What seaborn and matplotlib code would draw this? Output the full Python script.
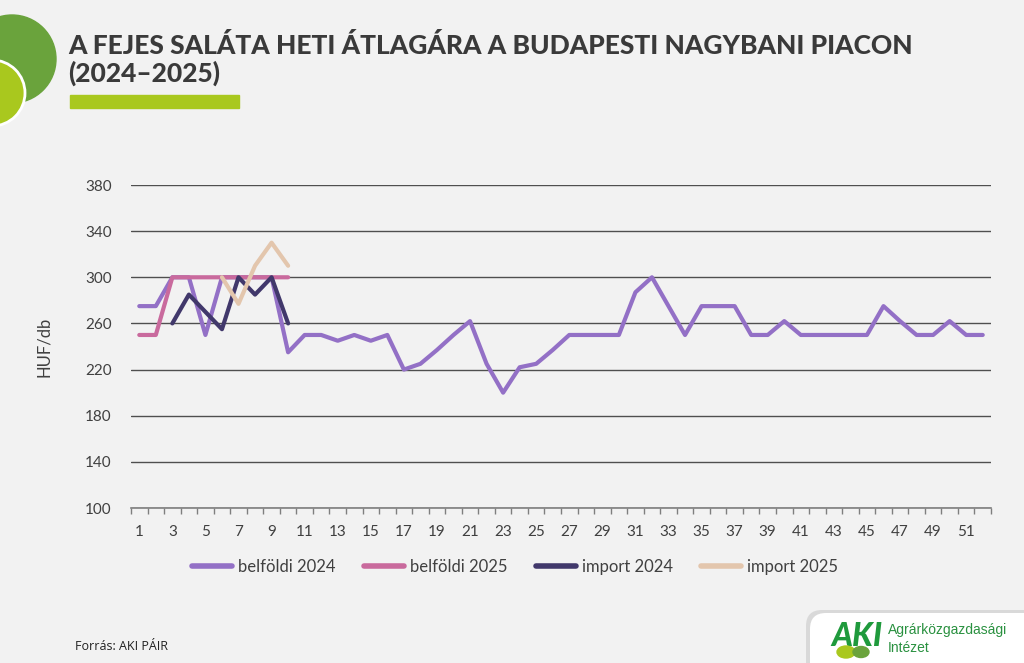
import numpy as np
import pandas as pd
import matplotlib
matplotlib.use("Agg")
import matplotlib.pyplot as plt
import seaborn as sns
from matplotlib.patches import Circle, FancyBboxPatch, Rectangle, Ellipse
from matplotlib.ticker import FixedLocator, NullFormatter

# ---------------- data ----------------
weeks = list(range(1, 53))
belfoldi_2024 = [275, 275, 300, 300, 250, 300, 300, 300, 300, 235,
                 250, 250, 245, 250, 245, 250, 220, 225, 237, 250,
                 262, 225, 200, 222, 225, 237, 250, 250, 250, 250,
                 287, 300, 275, 250, 275, 275, 275, 250, 250, 262,
                 250, 250, 250, 250, 250, 275, 262, 250, 250, 262,
                 250, 250]
weeks_belfoldi_2025 = list(range(1, 11))
belfoldi_2025 = [250, 250, 300, 300, 300, 300, 300, 300, 300, 300]
weeks_import_2024 = list(range(3, 11))
import_2024 = [260, 285, 270, 255, 300, 285, 300, 260]
weeks_import_2025 = list(range(6, 11))
import_2025 = [300, 277, 310, 330, 310]

series_names = ["belföldi 2024", "belföldi 2025", "import 2024", "import 2025"]
series_colors = ["#9370c6", "#c96a9d", "#41386b", "#e3c6ad"]
yticks = [100, 140, 180, 220, 260, 300, 340, 380]
xlabels = [str(w) for w in range(1, 53, 2)]

title_line1 = "A FEJES SALÁTA HETI ÁTLAGÁRA A BUDAPESTI NAGYBANI PIACON"
title_line2 = "(2024–2025)"
ylabel_text = "HUF/db"
source_text = "Forrás: AKI PÁIR"

frames = []
for name, wk, vals in [(series_names[0], weeks, belfoldi_2024),
                       (series_names[1], weeks_belfoldi_2025, belfoldi_2025),
                       (series_names[2], weeks_import_2024, import_2024),
                       (series_names[3], weeks_import_2025, import_2025)]:
    frames.append(pd.DataFrame({"week": wk, "price": vals, "series": name}))
df = pd.concat(frames, ignore_index=True)

# ---------------- style ----------------
BG = "#f2f2f2"
sns.set_theme(style="white")
plt.rcParams["font.family"] = ["Lato", "DejaVu Sans"]
plt.rcParams["figure.facecolor"] = BG
plt.rcParams["savefig.facecolor"] = BG

W, H = 1024, 663
fig = plt.figure(figsize=(W / 100, H / 100), dpi=100)

# overlay (pixel coordinates, y downward) for decorations
deco = fig.add_axes([0, 0, 1, 1], zorder=0)
deco.set_xlim(0, W)
deco.set_ylim(H, 0)
deco.axis("off")

deco.add_patch(Circle((12, 59), 44, color="#6aa33c", zorder=1))
deco.add_patch(Circle((-8, 93), 33, facecolor="#a9c81e", edgecolor="white", lw=2, zorder=2))
deco.add_patch(Rectangle((70, 95), 169, 13, color="#a9c81e", zorder=1))

# logo tab
deco.add_patch(FancyBboxPatch((806, 610), 240, 70, boxstyle="round,pad=0,rounding_size=16",
                              facecolor="#d9d9d9", edgecolor="none", zorder=1))
deco.add_patch(FancyBboxPatch((810, 613), 240, 70, boxstyle="round,pad=0,rounding_size=16",
                              facecolor="white", edgecolor="none", zorder=2))
deco.text(831, 646, "AKI", fontsize=23, fontweight="black", color="#1f9a3c",
          fontstyle="italic", family=["Lato", "DejaVu Sans"], va="baseline", zorder=3)
deco.add_patch(Ellipse((846, 652), 18, 12, color="#a9c81e", zorder=4))
deco.add_patch(Ellipse((861, 652), 16, 11, color="#6aa33c", zorder=4))
deco.text(888, 630, "Agrárközgazdasági", fontsize=10, color="#2a9140",
          family=["Liberation Sans"], va="center", zorder=3)
deco.text(888, 648, "Intézet", fontsize=10, color="#2a9140",
          family=["Liberation Sans"], va="center", zorder=3)

deco.text(68, 54, title_line1,
          fontsize=19, fontweight="black", color="#3a3a3a", va="baseline", zorder=3)
deco.text(68, 82, title_line2,
          fontsize=19, fontweight="black", color="#3a3a3a", va="baseline", zorder=3)
deco.text(75, 650, source_text, fontsize=9, color="#222222",
          family=["Open Sans", "DejaVu Sans"], va="baseline", zorder=3)

# ---------------- main chart ----------------
ax = fig.add_axes([131 / W, 1 - 508 / H, (991 - 131) / W, (508 - 185) / H], zorder=2)
ax.set_facecolor("none")

sns.lineplot(data=df, x="week", y="price", hue="series", hue_order=series_names,
             palette=dict(zip(series_names, series_colors)), linewidth=3,
             ax=ax, legend=True, sort=True, estimator=None)
for ln in ax.get_lines():
    ln.set_solid_capstyle("round")
    ln.set_solid_joinstyle("round")

ax.set_xlim(0.5, 52.5)
ax.set_ylim(100, 380)
ax.set_yticks(yticks)
ax.set_yticklabels([str(v) for v in yticks])
ax.set_xticks(list(range(1, 53, 2)))
ax.set_xticklabels(xlabels)
ax.xaxis.set_minor_locator(FixedLocator(np.arange(0.5, 53, 1.0)))
ax.xaxis.set_minor_formatter(NullFormatter())

ax.tick_params(axis="x", which="major", length=0, pad=12, labelsize=11, labelcolor="#404040")
ax.tick_params(axis="x", which="minor", length=4, width=1, color="#7f7f7f", direction="out", bottom=True)
ax.tick_params(axis="y", which="major", length=0, pad=14, labelsize=11, labelcolor="#404040")

ax.yaxis.grid(True, color="#4f4f4f", lw=1.0)
ax.xaxis.grid(False)
ax.set_axisbelow(True)
for s in ["top", "right", "left"]:
    ax.spines[s].set_visible(False)
ax.spines["bottom"].set_color("#7f7f7f")
ax.spines["bottom"].set_linewidth(1.2)

ax.set_xlabel("")
ax.set_ylabel(ylabel_text, fontsize=12, color="#404040", labelpad=24)

handles, labels = ax.get_legend_handles_labels()
ax.get_legend().remove()
for h in handles:
    h.set_linewidth(4)
    h.set_solid_capstyle("round")
fig.legend(handles, labels, loc="center", bbox_to_anchor=(515 / W, 1 - 567 / H), ncol=4,
           frameon=False, fontsize=12, handlelength=2.4, handletextpad=0.35,
           columnspacing=1.7, labelcolor="#404040")

fig.savefig("out.png", dpi=100, facecolor=BG)
